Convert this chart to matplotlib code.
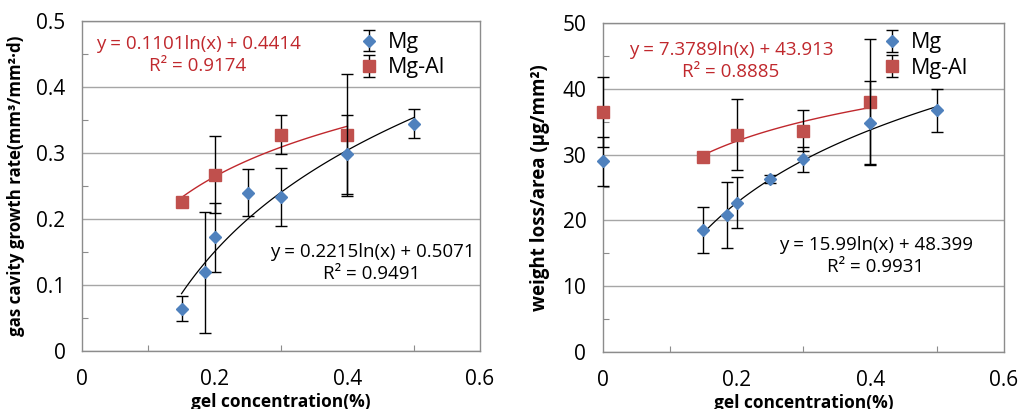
import numpy as np
import matplotlib
matplotlib.use("Agg")
import matplotlib.pyplot as plt
from matplotlib.ticker import MultipleLocator, FixedLocator, FuncFormatter

plt.rcParams["font.family"] = ["Open Sans", "DejaVu Sans"]

# ── data: gas cavity growth rate ────────────────────────────────────────────
gas_mg_x = [0.15, 0.185, 0.2, 0.25, 0.3, 0.4, 0.5]
gas_mg_y = [0.064, 0.119, 0.172, 0.240, 0.233, 0.298, 0.344]
gas_mg_err = [0.019, 0.092, 0.052, 0.035, 0.044, 0.060, 0.022]

gas_al_x = [0.15, 0.2, 0.3, 0.4]
gas_al_y = [0.226, 0.267, 0.328, 0.327]
gas_al_err = [0.0, 0.058, 0.029, 0.092]

# trendline coefficients as printed on the chart: y = a ln(x) + b
gas_mg_fit = (0.2215, 0.5071)
gas_al_fit = (0.1101, 0.4414)

# ── data: weight loss/area ──────────────────────────────────────────────────
wl_mg_x = [0.0, 0.15, 0.185, 0.2, 0.25, 0.3, 0.4, 0.5]
wl_mg_y = [29.0, 18.5, 20.8, 22.7, 26.3, 29.3, 34.8, 36.7]
wl_mg_err = [3.7, 3.5, 5.0, 3.9, 0.6, 1.9, 6.4, 3.3]

wl_al_x = [0.0, 0.15, 0.2, 0.3, 0.4]
wl_al_y = [36.5, 29.7, 33.0, 33.6, 38.0]
wl_al_err = [5.3, 0.0, 5.4, 3.1, 9.5]

wl_mg_fit = (15.99, 48.399)
wl_al_fit = (7.3789, 43.913)

BLUE = "#4F81BD"
RED = "#C0504D"
RED_TXT = "#C0282D"
GRAY = "#8C8C8C"
GRID = "#A6A6A6"


def style_axes(ax, ymax, ystep):
    ax.set_xlim(0, 0.6)
    ax.set_ylim(0, ymax)
    ax.xaxis.set_major_locator(FixedLocator([0, 0.2, 0.4, 0.6]))
    ax.xaxis.set_minor_locator(MultipleLocator(0.1))
    ax.yaxis.set_major_locator(MultipleLocator(ystep))
    ax.yaxis.set_minor_locator(MultipleLocator(ystep / 2))
    ax.xaxis.set_major_formatter(FuncFormatter(lambda v, _: f"{v:g}"))
    ax.yaxis.set_major_formatter(FuncFormatter(lambda v, _: f"{v:g}"))
    ax.tick_params(axis="both", which="both", direction="in", color=GRAY,
                   labelsize=15, width=0.8)
    ax.tick_params(axis="x", which="major", length=0, pad=13)
    ax.tick_params(axis="x", which="minor", length=4)
    ax.tick_params(axis="y", which="major", length=0, pad=12)
    ax.tick_params(axis="y", which="minor", length=4)
    ax.grid(axis="y", which="major", color=GRID, linewidth=1)
    ax.set_axisbelow(True)
    for s in ax.spines.values():
        s.set_color(GRAY)
        s.set_linewidth(1)


def draw(ax, mg, al, mg_fit, al_fit, ymax, ystep):
    style_axes(ax, ymax, ystep)
    (mx, my, me), (ax_, ay, ae) = mg, al
    xs = np.linspace(min(v for v in mx if v > 0), max(mx), 100)
    ax.plot(xs, mg_fit[0] * np.log(xs) + mg_fit[1], color="black", lw=0.9, zorder=3)
    xs = np.linspace(min(v for v in ax_ if v > 0), max(ax_), 100)
    ax.plot(xs, al_fit[0] * np.log(xs) + al_fit[1], color=RED_TXT, lw=1.0, zorder=3)
    ax.errorbar(ax_, ay, yerr=ae, fmt="s", color=RED, ms=8, mec=RED,
                ecolor="black", elinewidth=1, capsize=4, capthick=1,
                zorder=4, clip_on=False, label="Mg-Al")
    ax.errorbar(mx, my, yerr=me, fmt="D", color=BLUE, ms=6.2, mec=BLUE,
                ecolor="black", elinewidth=1, capsize=4, capthick=1,
                zorder=5, clip_on=False, label="Mg")
    h, l = ax.get_legend_handles_labels()
    leg = ax.legend(h[::-1], l[::-1], loc="upper left", frameon=False,
                    fontsize=15.5, handlelength=0.8, handletextpad=0.5,
                    labelspacing=0.2)
    return leg


fig = plt.figure(figsize=(10.18, 4.09), dpi=100)
ax1 = fig.add_axes([0.0806, 0.1418, 0.3909, 0.8069])
ax2 = fig.add_axes([0.5923, 0.1394, 0.3939, 0.8044])

leg1 = draw(ax1, (gas_mg_x, gas_mg_y, gas_mg_err), (gas_al_x, gas_al_y, gas_al_err),
            gas_mg_fit, gas_al_fit, 0.5, 0.1)
leg1.set_bbox_to_anchor((0.65, 1.025))
ax1.set_xlabel("gel concentration(%)", fontsize=12.5, fontweight="bold", labelpad=2)
ax1.set_ylabel("gas cavity growth rate(mm³/mm²·d)", fontsize=12.2,
               fontweight="bold", labelpad=8)

leg2 = draw(ax2, (wl_mg_x, wl_mg_y, wl_mg_err), (wl_al_x, wl_al_y, wl_al_err),
            wl_mg_fit, wl_al_fit, 50, 10)
leg2.set_bbox_to_anchor((0.65, 1.03))
ax2.set_xlabel("gel concentration(%)", fontsize=12.5, fontweight="bold", labelpad=2)
ax2.set_ylabel("weight loss/area (μg/mm²)", fontsize=13.5, fontweight="bold",
               labelpad=9)

# equation labels (pixel positions converted to figure fractions)
W, H = 1018, 409
def eq(x, y, a, b, r2, color):
    fig.text(x / W, 1 - y / H, f"y = {a}ln(x) + {b}\nR² = {r2}", color=color,
             fontsize=13.5, ha="center", va="center", linespacing=1.25)

eq(198, 55, "0.1101", "0.4414", "0.9174", RED_TXT)
eq(372, 263, "0.2215", "0.5071", "0.9491", "black")
eq(731, 61, "7.3789", "43.913", "0.8885", RED_TXT)
eq(876, 256, "15.99", "48.399", "0.9931", "black")

fig.savefig("out.png", dpi=100)
